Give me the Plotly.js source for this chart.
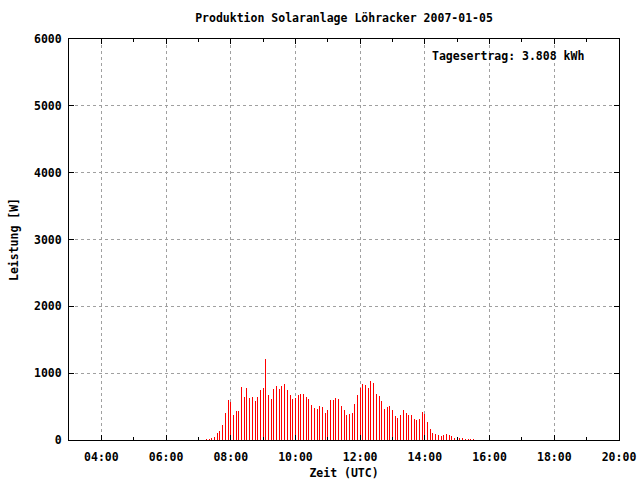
<!DOCTYPE html>
<html>
<head>
<meta charset="utf-8">
<script src="https://cdn.plot.ly/plotly-3.0.1.min.js"></script>
<style>
html, body { margin: 0; padding: 0; background: #fff; }
#chart { width: 640px; height: 480px; }
.js-plotly-plot .scatterlayer path.js-line { shape-rendering: crispEdges; }
</style>
</head>
<body>
<div id="chart"></div>
<script>
// Sample times (UTC), 5-minute readings on 2007-01-05
const times = [
  "07:15","07:20","07:25","07:30","07:35","07:40","07:45","07:50","07:55",
  "08:00","08:05","08:10","08:15","08:20","08:25","08:30","08:35","08:40","08:45","08:50","08:55",
  "09:00","09:05","09:10","09:15","09:20","09:25","09:30","09:35","09:40","09:45","09:50","09:55",
  "10:00","10:05","10:10","10:15","10:20","10:25","10:30","10:35","10:40","10:45","10:50","10:55",
  "11:00","11:05","11:10","11:15","11:20","11:25","11:30","11:35","11:40","11:45","11:50","11:55",
  "12:00","12:05","12:10","12:15","12:20","12:25","12:30","12:35","12:40","12:45","12:50","12:55",
  "13:00","13:05","13:10","13:15","13:20","13:25","13:30","13:35","13:40","13:45","13:50","13:55",
  "14:00","14:05","14:10","14:15","14:20","14:25","14:30","14:35","14:40","14:45","14:50","14:55",
  "15:00","15:05","15:10","15:15","15:20","15:25","15:30"
];
// Power output [W]
const power = [
  15,20,35,50,105,135,225,405,600,570,
  375,435,435,795,645,780,630,645,585,645,
  750,780,1215,675,615,765,810,765,810,840,
  750,675,615,630,675,690,690,645,615,525,
  480,465,510,495,405,450,600,600,630,615,
  510,450,375,390,405,540,675,780,840,825,
  780,885,855,690,660,585,465,495,510,450,
  360,330,375,450,405,375,375,315,300,315,
  420,395,270,165,105,90,75,60,75,90,
  75,60,30,30,30,30,15,15,15,15
];
const day = "2007-01-05";
const xTickLabels = ["04:00","06:00","08:00","10:00","12:00","14:00","16:00","18:00","20:00"];
const yTicks = [0,1000,2000,3000,4000,5000,6000];
const titleText = "Produktion Solaranlage Löhracker 2007-01-05";
const yieldText = "Tagesertrag: 3.808 kWh";

// impulses: vertical line from 0 to value at each time
const xs = [], ys = [];
for (let i = 0; i < times.length; i++) {
  const t = day + " " + times[i];
  xs.push(t, t, null);
  ys.push(0, power[i], null);
}

const FONT = "DejaVu Sans Mono, Liberation Mono, monospace";
const font = { family: FONT, size: 11.5, color: "#000", weight: "bold" };

const trace = {
  type: "scatter",
  mode: "lines",
  x: xs,
  y: ys,
  line: { color: "#ff0000", width: 1 },
  hoverinfo: "skip",
  showlegend: false
};

const gridStyle = { showgrid: true, gridcolor: "#a0a0a0", gridwidth: 1, griddash: "3px,3px" };

const layout = {
  width: 640,
  height: 480,
  margin: { l: 69, r: 21, t: 39, b: 40 },
  paper_bgcolor: "#fff",
  plot_bgcolor: "#fff",
  font: font,
  title: { text: titleText, font: font, x: 0.5, xref: "paper", xanchor: "center", y: 1 - 18/480, yanchor: "middle" },
  xaxis: Object.assign({
    type: "date",
    range: [day + " 03:00", day + " 20:00"],
    tickmode: "array",
    tickvals: xTickLabels.map(s => day + " " + s),
    ticktext: xTickLabels,
    ticks: "inside",
    ticklen: 5,
    tickwidth: 1,
    tickcolor: "#000",
    showline: true,
    linecolor: "#000",
    linewidth: 1,
    mirror: "allticks",
    zeroline: false,
    tickfont: font,
    ticklabelstandoff: 6,
    minor: { dtick: 3600000, tick0: day + " 03:00", ticks: "inside", ticklen: 3, tickcolor: "#000", showgrid: false },
    title: { text: "Zeit (UTC)", font: font, standoff: 6 },
    automargin: false,
    fixedrange: true
  }, gridStyle),
  yaxis: Object.assign({
    range: [0, 6000],
    tickmode: "array",
    tickvals: yTicks,
    ticktext: yTicks.map(String),
    ticks: "inside",
    ticklen: 5,
    tickwidth: 1,
    tickcolor: "#000",
    showline: true,
    linecolor: "#000",
    linewidth: 1,
    mirror: "allticks",
    zeroline: false,
    tickfont: font,
    ticklabelstandoff: 4,
    title: { text: "Leistung [W]", font: font, standoff: 12 },
    automargin: false,
    fixedrange: true
  }, gridStyle),
  annotations: [{
    text: yieldText,
    xref: "paper", yref: "paper",
    x: (586 - 69) / 550, y: (440 - 56) / 401,
    xanchor: "right", yanchor: "middle",
    showarrow: false,
    font: font
  }]
};

Plotly.newPlot("chart", [trace], layout, { displayModeBar: false, staticPlot: true });
</script>
</body>
</html>
